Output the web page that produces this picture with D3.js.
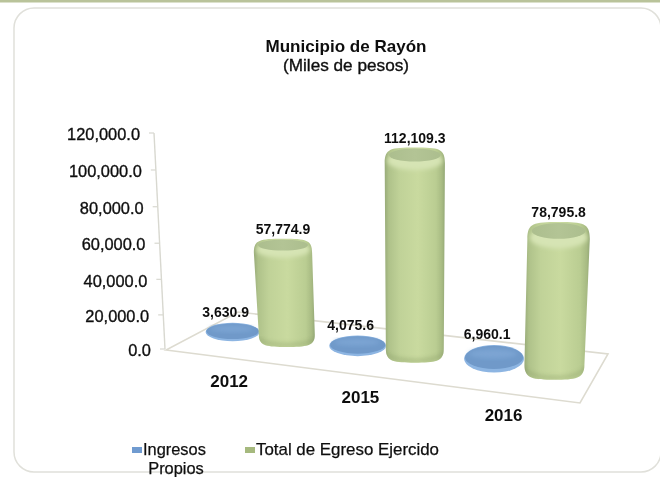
<!DOCTYPE html>
<html><head><meta charset="utf-8">
<script src="https://cdn.jsdelivr.net/npm/d3@7"></script>
<style>html,body{margin:0;padding:0;background:#fff}svg{display:block}text{font-family:"Liberation Sans",Arial,sans-serif;fill:#111}</style>
</head><body><svg id="c" width="660" height="477"></svg>
<script>
const categories = ["2012","2015","2016"];
const seriesNames = ["Ingresos Propios","Total de Egreso Ejercido"];
const ingresos = [3630.9,4075.6,6960.1];
const egreso = [57774.9,112109.3,78795.8];
const yTicks = [0,20000,40000,60000,80000,100000,120000];
const fmt = d3.format(",.1f");

const svg = d3.select("#c");
const defs = svg.append("defs");
const blurF = (id,s)=>defs.append("filter").attr("id",id).attr("x","-20%").attr("y","-20%").attr("width","140%").attr("height","140%")
  .append("feGaussianBlur").attr("stdDeviation",s);
blurF("soft",0.5); blurF("soft2",2.2);
function hgrad(id,stops){
  const g=defs.append("linearGradient").attr("id",id);
  stops.forEach(s=>g.append("stop").attr("offset",s[0]).attr("stop-color",s[1]));
}
hgrad("gBody",[[0,"#98ab78"],[0.07,"#afc28a"],[0.25,"#c0d298"],[0.55,"#c9da9f"],[0.85,"#bacd92"],[0.95,"#a8bb83"],[1,"#94a876"]]);
hgrad("gTop",[[0,"#acbe8e"],[0.5,"#b3c495"],[1,"#acbe8e"]]);

const root = svg.append("g").attr("filter","url(#soft)");
root.append("rect").attr("x",-2).attr("y",0).attr("width",664).attr("height",2.5).attr("fill","#b9c39a");
root.append("rect").attr("x",14).attr("y",8).attr("width",647).attr("height",464).attr("rx",20)
  .attr("fill","#fff").attr("stroke","#e0e0da").attr("stroke-width",1.5);

const yScale = d3.scalePow().exponent(1.03).domain([0,120000]).range([349,133]);
const axisX = d3.scaleLinear().domain([0,120000]).range([165,154]);

const band = d3.scaleBand().domain(categories).range([0,1]);
const catT = c => Math.pow(band(c)+band.bandwidth()/2,1.12);
const tRange=[0.1344,0.8154];
const gx = d3.scaleLinear().domain([0,1]).range([234,627]);
const gy = d3.scaleLinear().domain([0,1]).range([334,378]);
const bx = d3.scaleLinear().domain([0,1]).range([181,565]);
const by = d3.scaleLinear().domain([0,1]).range([329.1,372.5]);
const lx = d3.scaleLinear().domain([0,1]).range([175,578]);
const ly = d3.scaleLinear().domain([0,1]).range([374.5,424.5]);
const gRx = d3.scaleLinear().domain(tRange).range([28,30]);
const gRy = d3.scaleLinear().domain(tRange).range([7,10]);
const bRx = d3.scaleLinear().domain(tRange).range([27,30]);
const bRy = d3.scaleLinear().domain(tRange).range([6.2,8]);
const depth = d3.scaleLinear().domain([0.1344,0.46]).range([0.925,0.985]).clamp(true);

const floor = [[166,350],[580,403],[608,354],[238,312]];
root.append("path").attr("d",d3.line()(floor)+"Z").attr("fill","#fff").attr("stroke","#dddbd0").attr("stroke-width",1.6);

const ax = root.append("g");
ax.append("line").attr("x1",axisX(0)).attr("x2",axisX(120000)).attr("y1",yScale(0)).attr("y2",yScale(120000))
  .attr("stroke","#d8d8d0").attr("stroke-width",1.4);
const tk = ax.selectAll("g").data(yTicks).join("g");
tk.append("line").attr("x1",d=>axisX(d)-5).attr("x2",d=>axisX(d)).attr("y1",d=>yScale(d)).attr("y2",d=>yScale(d))
  .attr("stroke","#d8d8d0").attr("stroke-width",1.2);
tk.append("text").attr("x",d=>axisX(d)-14).attr("y",d=>yScale(d)+1.5).attr("dy","0.35em").attr("text-anchor","end")
  .attr("font-size",16.4).attr("stroke","#111").attr("stroke-width",0.35).text(d=>fmt(d));

const blue = root.append("g");
categories.forEach((c,i)=>{
  const t=catT(c), cx=bx(t), cy=by(t), rx=bRx(t), ry=bRy(t);
  const h=yScale(0)-yScale(ingresos[i]);
  const g=blue.append("g");
  const midY=cy-h/2, halfH=ry+h/2;
  g.append("ellipse").attr("cx",cx).attr("cy",midY).attr("rx",rx).attr("ry",halfH).attr("fill","#8db5e2");
  g.append("ellipse").attr("cx",cx).attr("cy",midY-h*0.12).attr("rx",rx*0.97).attr("ry",halfH*0.84).attr("fill","#6f99c9");
  g.append("ellipse").attr("cx",cx-1).attr("cy",midY-halfH*0.35).attr("rx",rx*0.8).attr("ry",halfH*0.35).attr("fill","#7ba4d3").attr("filter","url(#soft2)");
  root.append("text").attr("x",cx-7).attr("y",cy-h-ry-10.5).attr("dy","0.35em").attr("text-anchor","middle")
    .attr("font-size",14).attr("font-weight","bold").text(fmt(ingresos[i]));
});

const green = root.append("g");
categories.forEach((c,i)=>{
  const t=catT(c), cx=gx(t), cy=gy(t), rx=gRx(t), ry=gRy(t);
  const h=(yScale(0)-yScale(egreso[i]))*depth(t);
  const tcx=cx+(cx-415)*0.03, trx=rx*1.04, tcy=cy-h, top=tcy-ry, bot=cy+ry;
  const clip="cy"+i;
  const d=`M${tcx-trx},${tcy+7}C${tcx-trx},${top+1} ${tcx-trx*0.8},${top} ${tcx},${top}`+
    `C${tcx+trx*0.8},${top} ${tcx+trx},${top+1} ${tcx+trx},${tcy+7}`+
    `L${cx+rx},${cy-5}C${cx+rx},${bot-1} ${cx+rx*0.7},${bot} ${cx},${bot}`+
    `C${cx-rx*0.7},${bot} ${cx-rx},${bot-1} ${cx-rx},${cy-5}Z`;
  defs.append("clipPath").attr("id",clip).append("path").attr("d",d);
  const g=green.append("g");
  g.append("path").attr("d",d).attr("fill","url(#gBody)");
  const inner=g.append("g").attr("clip-path",`url(#${clip})`);
  inner.append("ellipse").attr("cx",tcx).attr("cy",tcy+ry*0.55).attr("rx",trx*0.92).attr("ry",ry+1).attr("fill","#d6e4b4").attr("filter","url(#soft2)");
  inner.append("ellipse").attr("cx",tcx).attr("cy",tcy-ry*0.1).attr("rx",trx*0.86).attr("ry",ry*0.78).attr("fill","url(#gTop)").attr("filter","url(#soft)");
  inner.append("path").attr("d",`M${cx-rx},${cy-2}A${rx},${ry} 0 0 0 ${cx+rx},${cy-2}`)
    .attr("fill","none").attr("stroke","#8a9e68").attr("stroke-width",3).attr("opacity",0.55).attr("filter","url(#soft2)");
  root.append("text").attr("x",tcx).attr("y",cy-h-ry-9.5).attr("dy","0.35em").attr("text-anchor","middle")
    .attr("font-size",14).attr("font-weight","bold").text(fmt(egreso[i]));
});

root.selectAll("text.cat").data(categories).join("text").attr("class","cat")
  .attr("x",c=>lx(catT(c))).attr("y",c=>ly(catT(c))).attr("dy","0.35em").attr("text-anchor","middle")
  .attr("font-size",17).attr("font-weight","bold").text(c=>c);

root.append("text").attr("x",346).attr("y",46).attr("dy","0.35em").attr("text-anchor","middle")
  .attr("font-size",17).attr("font-weight","bold").attr("textLength",161).attr("lengthAdjust","spacingAndGlyphs").text("Municipio de Rayón");
root.append("text").attr("x",346).attr("y",65).attr("dy","0.35em").attr("text-anchor","middle")
  .attr("font-size",16.4).attr("stroke","#111").attr("stroke-width",0.35).attr("textLength",126).attr("lengthAdjust","spacingAndGlyphs").text("(Miles de pesos)");

const lg = root.append("g").attr("font-size",16.4);
lg.append("rect").attr("x",132).attr("y",447).attr("width",10).attr("height",6).attr("fill","#6f9bd0");
lg.append("text").attr("x",143).attr("y",449).attr("dy","0.35em").attr("stroke","#111").attr("stroke-width",0.25).text("Ingresos");
lg.append("text").attr("x",176).attr("y",468).attr("dy","0.35em").attr("text-anchor","middle").attr("stroke","#111").attr("stroke-width",0.25).text("Propios");
lg.append("rect").attr("x",245).attr("y",447).attr("width",10).attr("height",6).attr("fill","#a6b97e");
lg.append("text").attr("x",256).attr("y",449).attr("dy","0.35em").attr("stroke","#111").attr("stroke-width",0.25).attr("textLength",183).attr("lengthAdjust","spacingAndGlyphs").text(seriesNames[1]);
</script></body></html>
